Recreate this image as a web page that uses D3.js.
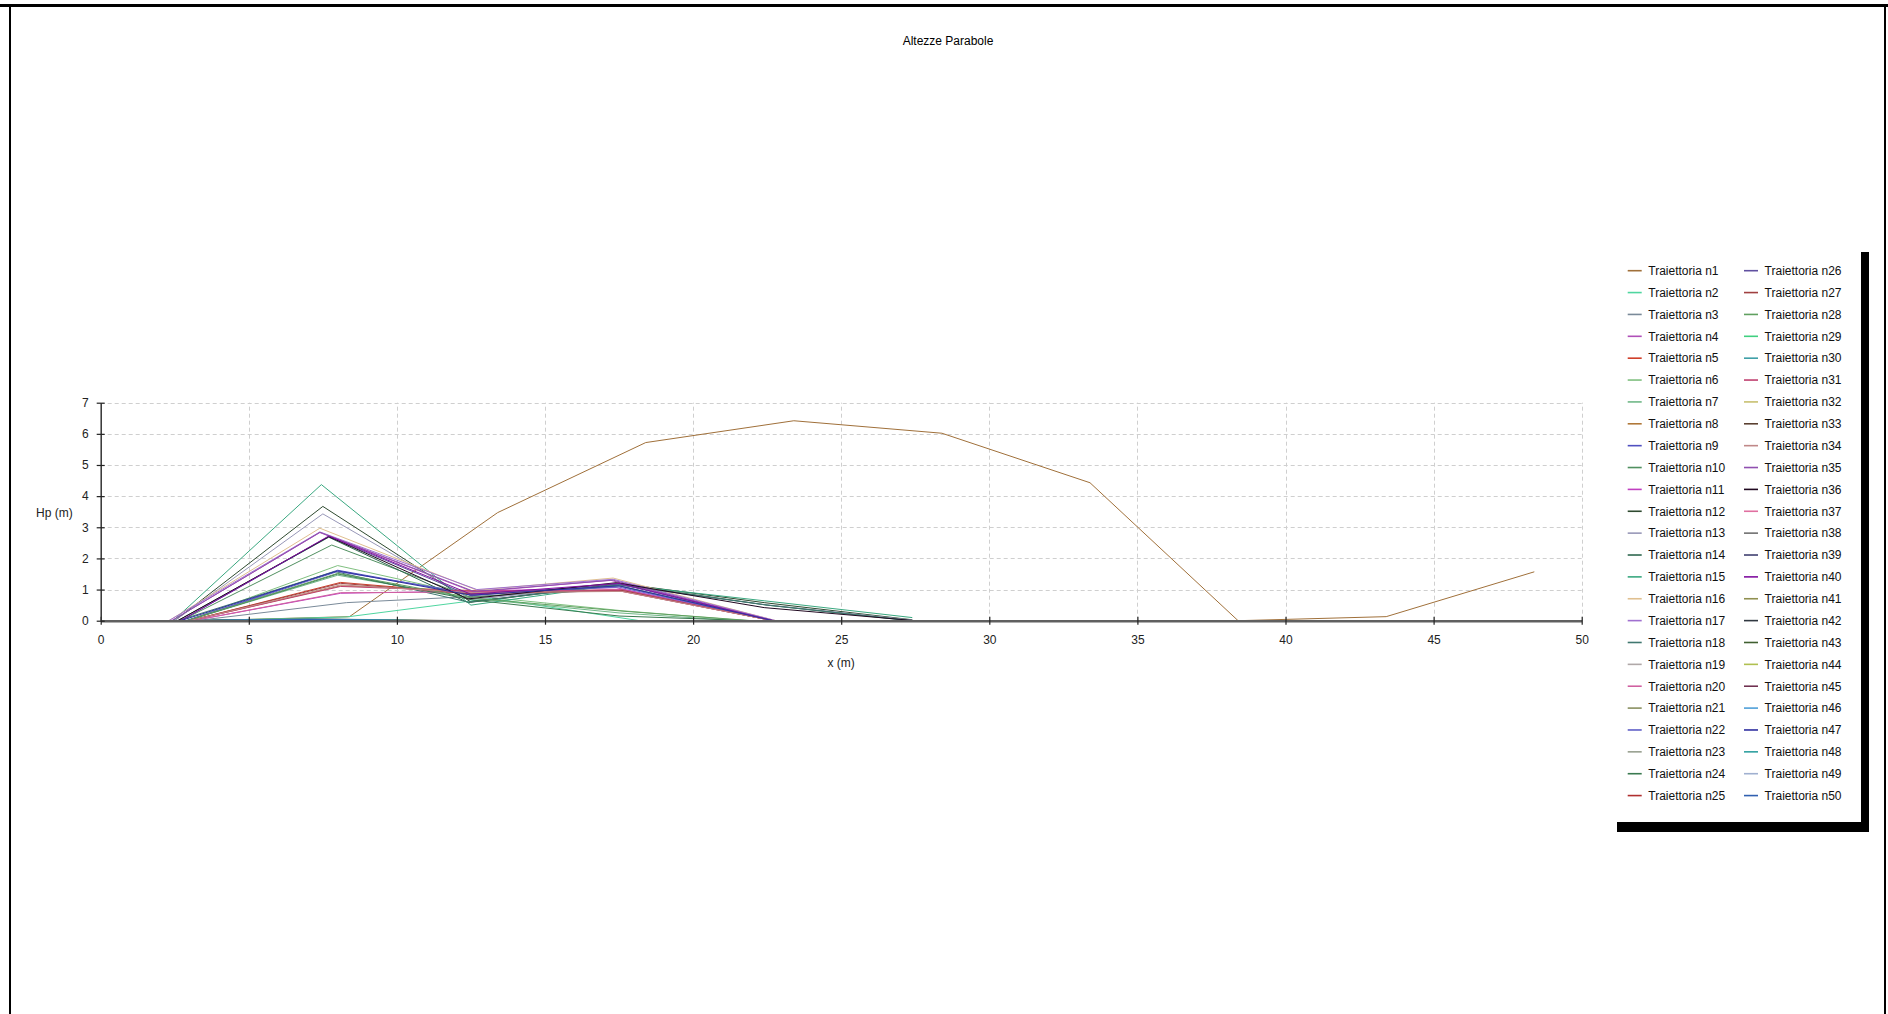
<!DOCTYPE html>
<html>
<head>
<meta charset="utf-8">
<script src="https://cdn.jsdelivr.net/npm/d3@7"></script>
<style>
  html, body { margin: 0; padding: 0; background: #fff; }
  svg { display: block; }
  text { font-family: "Liberation Sans", Arial, sans-serif; }
</style>
</head>
<body>
<svg id="chart" width="1888" height="1014"></svg>
<script>
// ---------------- DATA ----------------
const chartTitle = "Altezze Parabole";
const xAxisLabel = "x (m)";
const yAxisLabel = "Hp (m)";
const xTicks = [0, 5, 10, 15, 20, 25, 30, 35, 40, 45, 50];
const yTicks = [0, 1, 2, 3, 4, 5, 6, 7];

const seriesNames = d3.range(1, 51).map(i => "Traiettoria n" + i);

const seriesColors = [
  "#a0703a", "#4fd6a0", "#7a8a99", "#b050b8", "#d0402a", "#80c080", "#70b888", "#b07838", "#5050c0", "#509060",
  "#c040c0", "#2f4a30", "#9898b8", "#306850", "#3aa880", "#e0c090", "#a070d0", "#407870", "#b0a8a8", "#d060a0",
  "#8a9060", "#6060c8", "#98a090", "#3a7a50", "#b03030", "#6050a0", "#a04040", "#60a060", "#40d080", "#40a0a8",
  "#c04070", "#c8c070", "#5a4030", "#c08888", "#9050b0", "#200820", "#e070a0", "#707070", "#404070", "#8010a0",
  "#909050", "#303840", "#406030", "#b0c050", "#703050", "#50a0d8", "#3030a0", "#30a0a0", "#a0b0d0", "#3060b0"
];

// x positions (m) of each trajectory's points
const xPoints = [
  [3.4, 8.4, 13.4, 18.4, 23.4, 28.4, 33.4, 38.4, 43.4, 48.4],
  [3.3, 8.3, 13.2, 18.2],
  [3.2, 8.3, 12.6, 17.6, 22.7],
  [2.4, 7.4, 12.6, 17.2, 22.7],
  [3.0, 8.1, 12.5, 17.6, 22.7],
  [2.9, 8.0, 12.6, 17.6, 21.8],
  [2.9, 8.0, 12.5, 17.5, 21.5],
  [3.0, 8.1, 12.5, 17.6, 22.7],
  [2.9, 8.0, 12.5, 17.5, 22.7],
  [2.7, 7.8, 12.5, 17.5, 22.7],
  [3.1, 8.1, 12.6, 17.4, 22.7],
  [2.5, 7.5, 12.5, 17.5, 22.4, 27.4],
  [2.5, 7.5, 12.5, 17.4, 22.4, 27.4],
  [2.6, 7.7, 12.4, 17.5, 22.5, 27.3],
  [2.45, 7.45, 12.5, 17.5, 22.4, 27.4],
  [2.3, 7.4, 12.7, 17.3, 22.8],
  [2.3, 7.4, 12.7, 17.3, 22.8],
  [2.6, 7.9, 12.4, 17.5, 22.5, 27.4],
  [2.9, 7.9, 12.9],
  [3.1, 8.1, 12.6, 17.5, 22.7],
  [3.0, 6.5, 10.0],
  [2.9, 8.0, 12.5, 17.5, 22.7],
  [3.1, 7.0, 11.0],
  [2.9, 8.0, 12.6, 17.5, 22.0],
  [3.2, 7.2, 11.2],
  [2.7, 7.7, 12.5, 17.5, 22.7],
  [3.0, 8.1, 12.5, 17.6, 22.7],
  [2.9, 8.0, 12.6, 17.7, 22.0],
  [3.3, 7.0, 11.0],
  [2.6, 6.0, 9.5],
  [3.0, 8.1, 12.5, 17.5, 22.7],
  [3.0, 6.8, 10.5],
  [3.4, 7.0, 12.0],
  [3.0, 8.1, 12.5, 17.6, 22.7],
  [2.4, 7.4, 12.6, 17.3, 22.7],
  [2.6, 7.7, 12.4, 17.4, 22.4, 27.5],
  [2.5, 6.2, 10.0],
  [2.8, 7.2, 11.5],
  [2.7, 6.7, 10.7],
  [2.7, 7.7, 12.5, 17.5, 22.7],
  [3.3, 7.5, 12.0],
  [2.5, 6.5, 10.5],
  [2.6, 6.3, 10.2],
  [3.5, 7.0, 10.5],
  [2.8, 6.6, 10.5],
  [2.9, 7.1, 11.3],
  [2.7, 8.0, 12.5, 17.5, 22.7],
  [2.5, 7.0, 11.5],
  [3.0, 6.5, 10.0],
  [2.8, 6.9, 11.0]
];

// Hp heights (m) of each trajectory's points
const hpValues = [
  [0, 0.13, 3.47, 5.72, 6.42, 6.02, 4.43, 0, 0.13, 1.57],
  [0, 0.12, 0.72, 0],
  [0, 0.58, 0.78, 1.0, 0],
  [0, 2.83, 0.92, 1.3, 0],
  [0, 1.23, 0.88, 1.0, 0],
  [0, 1.77, 0.8, 0.32, 0],
  [0, 1.46, 0.72, 0.25, 0],
  [0, 1.12, 0.97, 0.95, 0],
  [0, 1.62, 0.85, 1.12, 0],
  [0, 2.43, 0.75, 1.12, 0],
  [0, 0.88, 0.95, 1.06, 0],
  [0, 3.67, 0.6, 1.2, 0.58, 0.03],
  [0, 3.43, 0.68, 1.15, 0.52, 0.02],
  [0, 2.68, 0.58, 1.18, 0.5, 0],
  [0, 4.37, 0.5, 1.16, 0.64, 0.1],
  [0, 2.97, 0.98, 1.37, 0],
  [0, 2.85, 1.0, 1.33, 0],
  [0, 1.58, 0.6, 1.15, 0.5, 0],
  [0, 0.05, 0],
  [0, 0.9, 0.92, 1.0, 0],
  [0, 0.06, 0],
  [0, 1.58, 0.88, 1.08, 0],
  [0, 0.04, 0],
  [0, 1.5, 0.66, 0.15, 0],
  [0, 0.05, 0],
  [0, 2.7, 0.8, 1.18, 0],
  [0, 1.2, 0.86, 0.97, 0],
  [0, 1.52, 0.72, 0.3, 0],
  [0, 0.04, 0],
  [0, 0.03, 0],
  [0, 1.1, 0.95, 0.96, 0],
  [0, 0.03, 0],
  [0, 0.04, 0],
  [0, 1.15, 0.9, 0.94, 0],
  [0, 2.84, 0.94, 1.3, 0],
  [0, 2.7, 0.7, 1.22, 0.42, 0],
  [0, 0.03, 0],
  [0, 0.04, 0],
  [0, 0.03, 0],
  [0, 2.72, 0.85, 1.2, 0],
  [0, 0.05, 0],
  [0, 0.03, 0],
  [0, 0.04, 0],
  [0, 0.02, 0],
  [0, 0.03, 0],
  [0, 0.04, 0],
  [0, 1.6, 0.82, 1.12, 0],
  [0, 0.06, 0],
  [0, 0.02, 0],
  [0, 0.04, 0]
];

// ---------------- DRAW ----------------
const svg = d3.select("#chart");

// outer frame
svg.append("rect").attr("x", 0).attr("y", 4).attr("width", 1888).attr("height", 3).attr("fill", "#000");
svg.append("rect").attr("x", 9).attr("y", 4).attr("width", 2).attr("height", 1010).attr("fill", "#000");
svg.append("rect").attr("x", 1884).attr("y", 4).attr("width", 2).attr("height", 1010).attr("fill", "#000");

// title
svg.append("text").attr("x", 948).attr("y", 45).attr("text-anchor", "middle")
  .attr("font-size", 12).attr("fill", "#000").text(chartTitle);

const x = d3.scaleLinear().domain([0, 50]).range([100.7, 1581.7]);
const y = d3.scaleLinear().domain([0, 7]).range([620.7, 402.7]);

// grid
const grid = svg.append("g").attr("stroke", "#cfcfcf").attr("stroke-width", 1).attr("stroke-dasharray", "4,3");
grid.selectAll("line.h").data(yTicks.filter(d => d > 0)).join("line")
  .attr("x1", x(0)).attr("x2", x(50))
  .attr("y1", d => Math.round(y(d)) + 0.5).attr("y2", d => Math.round(y(d)) + 0.5);
grid.selectAll("line.v").data(xTicks.filter(d => d > 0)).join("line")
  .attr("y1", y(0)).attr("y2", y(7))
  .attr("x1", d => Math.round(x(d)) + 0.5).attr("x2", d => Math.round(x(d)) + 0.5);

// series
const line = d3.line().x(d => x(d[0])).y(d => y(d[1]));
const series = seriesNames.map((name, i) => ({
  name, color: seriesColors[i],
  pts: xPoints[i].map((xv, j) => [xv, hpValues[i][j]])
}));
svg.append("g").selectAll("path").data(series).join("path")
  .attr("d", d => line(d.pts))
  .attr("fill", "none")
  .attr("stroke", d => d.color)
  .attr("stroke-width", 1);

// axes
const fmt = d3.format("d");
const xAxis = svg.append("g").attr("transform", `translate(0,${y(0)})`)
  .call(d3.axisBottom(x).tickValues(xTicks).tickFormat(fmt).tickSizeInner(4).tickSizeOuter(0).tickPadding(11));
xAxis.select(".domain").attr("stroke", "#606060").attr("stroke-width", 2.5);
xAxis.selectAll(".tick line").attr("y1", -4).attr("stroke", "#222").attr("stroke-width", 1.2);
xAxis.selectAll(".tick text").attr("font-size", 12).attr("fill", "#222")
  .attr("font-family", "'Liberation Sans', Arial, sans-serif");

const yAxis = svg.append("g").attr("transform", `translate(${x(0)},0)`)
  .call(d3.axisLeft(y).tickValues(yTicks).tickFormat(fmt).tickSizeInner(4).tickSizeOuter(0).tickPadding(8));
yAxis.select(".domain").attr("stroke", "#333").attr("stroke-width", 1.5);
yAxis.selectAll(".tick line").attr("x1", 4).attr("stroke", "#222").attr("stroke-width", 1.2);
yAxis.selectAll(".tick text").attr("font-size", 12).attr("fill", "#222")
  .attr("font-family", "'Liberation Sans', Arial, sans-serif");

// axis titles
svg.append("text").attr("x", 72.7).attr("y", 516.5).attr("text-anchor", "end")
  .attr("font-size", 12).attr("fill", "#222").text(yAxisLabel);
svg.append("text").attr("x", x(25)).attr("y", 667).attr("text-anchor", "middle")
  .attr("font-size", 12).attr("fill", "#222").text(xAxisLabel);

// legend
const lg = svg.append("g");
lg.append("rect").attr("x", 1617).attr("y", 252).attr("width", 252).attr("height", 580).attr("fill", "#000");
lg.append("rect").attr("x", 1609).attr("y", 244).attr("width", 252).attr("height", 578).attr("fill", "#fff");
const rowH = 21.87;
const items = lg.selectAll("g.item").data(series).join("g")
  .attr("transform", (d, i) => {
    const col = Math.floor(i / 25), row = i % 25;
    return `translate(${col === 0 ? 1627.7 : 1744}, ${270.7 + row * rowH})`;
  });
items.append("line").attr("x1", 0).attr("x2", 14).attr("y1", 0).attr("y2", 0)
  .attr("stroke", d => d.color).attr("stroke-width", 1.6);
items.append("text").attr("x", 20.6).attr("y", 4.3).attr("font-size", 12).attr("fill", "#111")
  .text(d => d.name);
</script>
</body>
</html>
